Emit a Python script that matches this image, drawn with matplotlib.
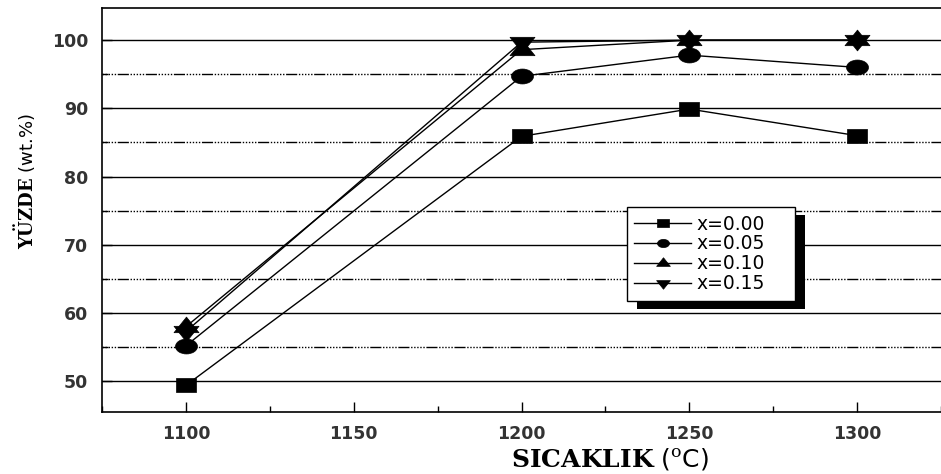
import matplotlib.pyplot as plt
from matplotlib.patches import Rectangle
from matplotlib.path import Path
from matplotlib.transforms import Affine2D
from matplotlib.ticker import MultipleLocator

# sintering temperature (C) and phase percentage (wt.%) for each composition
temperature = [1100, 1200, 1250, 1300]
x000 = [49.4, 85.9, 89.9, 86.0]
x005 = [55.2, 94.7, 97.8, 96.0]
x010 = [58.0, 98.6, 100.0, 100.0]
x015 = [57.3, 99.7, 100.0, 100.0]
labels = ['x=0.00', 'x=0.05', 'x=0.10', 'x=0.15']

# markers a bit wider than tall, triangles centred on their centroid
square = Path([(-0.7, -0.5), (0.7, -0.5), (0.7, 0.5), (-0.7, 0.5), (-0.7, -0.5)],
              [Path.MOVETO, Path.LINETO, Path.LINETO, Path.LINETO, Path.CLOSEPOLY])
ellipse = Path.unit_circle().transformed(Affine2D().scale(1.47, 1.0))
tri_up = Path([(-0.8, -1 / 3), (0.8, -1 / 3), (0.0, 2 / 3), (-0.8, -1 / 3)],
              [Path.MOVETO, Path.LINETO, Path.LINETO, Path.CLOSEPOLY])
tri_down = Path([(-0.8, 1 / 3), (0.8, 1 / 3), (0.0, -2 / 3), (-0.8, 1 / 3)],
                [Path.MOVETO, Path.LINETO, Path.LINETO, Path.CLOSEPOLY])
markers = [square, ellipse, tri_up, tri_down]
sizes = [14.5, 15.8, 18, 18]

plt.rcParams['mathtext.fontset'] = 'custom'
plt.rcParams['mathtext.rm'] = 'DejaVu Serif'
plt.rcParams['mathtext.bf'] = 'DejaVu Serif:bold'

fig = plt.figure(figsize=(9.41, 4.74), dpi=100)
ax = fig.add_axes([0.1084, 0.1308, 0.8916, 0.8522])

for y, lab, m, s in zip([x000, x005, x010, x015], labels, markers, sizes):
    ax.plot(temperature, y, color='black', lw=1, marker=m, ms=s,
            mfc='black', mec='black', mew=0.5, label=lab, zorder=3)

ax.set_xlim(1075, 1325)
ax.set_ylim(45.5, 104.7)
ax.xaxis.set_major_locator(MultipleLocator(50))
ax.xaxis.set_minor_locator(MultipleLocator(25))
ax.yaxis.set_major_locator(MultipleLocator(10))
ax.yaxis.set_minor_locator(MultipleLocator(5))

# solid lines on the major ticks, dotted ones in between
ax.grid(which='major', axis='y', color='black', lw=1, zorder=1)
ax.grid(which='minor', axis='y', color='black', lw=1, zorder=1,
        linestyle=(0, (1, 1.2, 1, 1.2, 1, 1.2, 1, 1.2, 1, 1.2, 8, 1.2)))
ax.set_axisbelow(True)

ax.spines['right'].set_visible(False)
for sp in ['left', 'top', 'bottom']:
    ax.spines[sp].set_linewidth(1.2)

ax.tick_params(which='both', direction='in', width=1)
ax.tick_params(which='major', length=7)
ax.tick_params(which='minor', length=4)
ax.tick_params(axis='x', pad=9)
ax.tick_params(axis='y', pad=10)
for t in ax.get_xticklabels() + ax.get_yticklabels():
    t.set_fontfamily('DejaVu Sans')
    t.set_fontweight('bold')
    t.set_fontsize(12.5)
    t.set_color('#333333')

ax.set_xlabel(r'$\mathbf{SICAKLIK}$ ($^{\mathrm{o}}$C)', fontsize=18)
ax.xaxis.set_label_coords(0.605, -0.083)
ax.set_ylabel(r'$\mathbf{Y\"UZDE}$ (wt.%)', fontsize=13)
ax.yaxis.set_label_coords(-0.076, 0.572)

leg = ax.legend(loc='upper left', bbox_to_anchor=(0.6257, 0.2649, 0.2002, 0.2425),
                mode='expand', fancybox=False, framealpha=1, edgecolor='black',
                prop={'family': 'DejaVu Sans', 'size': 13.5},
                handlelength=3.0, markerscale=0.55, labelspacing=0.05,
                borderpad=0.4, handletextpad=0.3, borderaxespad=0)
leg.get_frame().set_linewidth(1)
leg.set_zorder(6)

# black drop shadow behind the legend box
fig.canvas.draw()
bb = leg.get_window_extent()
ax.add_patch(Rectangle((bb.x0 + 10, bb.y0 - 8), bb.width, bb.height,
                       transform=None, facecolor='black', edgecolor='none',
                       zorder=5))

fig.savefig('out.png', dpi=100)
